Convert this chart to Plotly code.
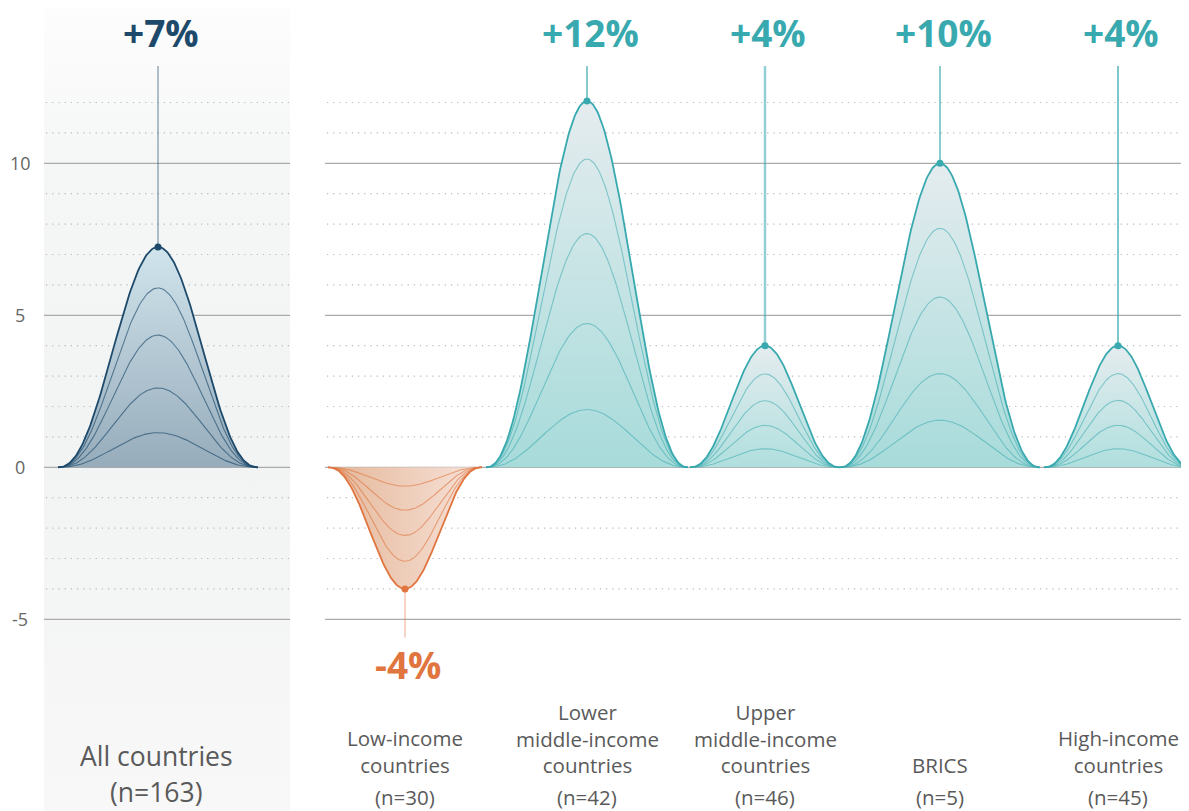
import numpy as np
import plotly.graph_objects as go

# data
groups = ["All countries", "Low-income<br>countries", "Lower<br>middle-income<br>countries",
          "Upper<br>middle-income<br>countries", "BRICS", "High-income<br>countries"]
n_counts = [163, 30, 42, 46, 5, 45]
peak_values = [7.25, -4.0, 12.05, 4.0, 10.0, 4.0]
inner_values = [
    [5.9, 4.35, 2.61, 1.14],
    [-3.09, -2.24, -1.41, -0.62],
    [10.14, 7.69, 4.73, 1.9],
    [3.07, 2.19, 1.38, 0.61],
    [7.86, 5.6, 3.08, 1.55],
    [3.08, 2.2, 1.38, 0.61],
]
grid_solid = [10, 5, 0, -5]
grid_dotted = [12, 11, 9, 8, 7, 6, 4, 3, 2, 1, -1, -2, -3, -4]
y_ticks = [10, 5, 0, -5]

# layout: the page has an 8px body margin, so the x axis is set up in page pixels
PAGE_W, PAGE_H, OFF = 1189, 811, 8
W, H = PAGE_W - OFF, PAGE_H - OFF
Y0_PX, PX_PER_UNIT = 467.3, 30.4
Y_MAX = (Y0_PX - OFF) / PX_PER_UNIT
Y_MIN = (Y0_PX - PAGE_H) / PX_PER_UNIT
centers = [158, 405, 587, 765, 940, 1118]
half_w = [100, 77, 101, 75, 100, 74]
STEM_TOP = 13.2
STEM_BOTTOM = -5.6

NAVY = "#1d4a6b"
TEAL = "#38a9ae"
ORANGE = "#e07540"
GREY_TXT = "#5a5a5a"
FONT = "Open Sans"
LABEL_SIZE = 20.5

styles = [
    dict(line=NAVY, inner="rgba(29,74,107,0.65)", stem="rgba(29,74,107,0.45)", stem_w=1.5,
         grad=dict(type="vertical", colorscale=[[0, "#97acbb"], [1, "#d0e4ec"]])),
    dict(line=ORANGE, inner="rgba(224,117,64,0.6)", stem="rgba(224,117,64,0.3)", stem_w=2,
         grad=dict(type="horizontal", colorscale=[[0, "#e4b799"], [1, "#f8e3da"]])),
    dict(line=TEAL, inner="rgba(56,169,174,0.55)", stem="rgba(56,169,174,0.6)", stem_w=2,
         grad=dict(type="vertical", colorscale=[[0, "#a7dbda"], [1, "#e5ecef"]])),
    dict(line=TEAL, inner="rgba(56,169,174,0.55)", stem="rgba(56,169,174,0.55)", stem_w=2.5,
         grad=dict(type="vertical", colorscale=[[0, "#b0dfde"], [1, "#e5ecef"]])),
    dict(line=TEAL, inner="rgba(56,169,174,0.55)", stem="rgba(56,169,174,1)", stem_w=1.2,
         grad=dict(type="vertical", colorscale=[[0, "#a7dbda"], [1, "#e5ecef"]])),
    dict(line=TEAL, inner="rgba(56,169,174,0.55)", stem="rgba(56,169,174,1)", stem_w=1.3,
         grad=dict(type="vertical", colorscale=[[0, "#b0dfde"], [1, "#e5ecef"]])),
]


def bell(t, p=1.15):
    return ((1 + np.cos(np.pi * t)) / 2) ** p


def py(px):
    # page pixel row -> paper y
    return 1 - (px - OFF) / H


fig = go.Figure()

# left panel background
fig.add_trace(go.Scatter(
    x=[44, 290, 290, 44, 44], y=[Y_MIN, Y_MIN, Y_MAX, Y_MAX, Y_MIN],
    mode="none", fill="toself",
    fillgradient=dict(type="vertical", start=Y_MIN, stop=Y_MAX,
                      colorscale=[[0, "#f8f8f8"], [0.45, "#f2f3f3"], [0.8, "#f5f6f6"], [1, "#fdfdfd"]]),
    hoverinfo="skip", showlegend=False,
))

# gridlines, two panels
for x0, x1 in [(44, 290), (325, PAGE_W)]:
    for g in grid_dotted:
        fig.add_trace(go.Scatter(x=[x0 + 2, x1], y=[g, g], mode="lines",
                                 line=dict(color="#b8b8b8", width=1.2, dash="1.2px,5px"),
                                 hoverinfo="skip", showlegend=False))
    for g in grid_solid:
        fig.add_trace(go.Scatter(x=[x0, x1], y=[g, g], mode="lines",
                                 line=dict(color="#ababab", width=1.3),
                                 hoverinfo="skip", showlegend=False))

t = np.linspace(-1, 1, 161)
for i, peak in enumerate(peak_values):
    st = styles[i]
    xs = centers[i] + t * half_w[i]
    fig.add_trace(go.Scatter(
        x=xs, y=peak * bell(t), mode="lines", fill="tozeroy",
        fillgradient=st["grad"], line=dict(color=st["line"], width=1.8),
        hoverinfo="skip", showlegend=False,
    ))
    for v in inner_values[i]:
        fig.add_trace(go.Scatter(
            x=xs, y=v * bell(t), mode="lines",
            line=dict(color=st["inner"], width=1.1),
            hoverinfo="skip", showlegend=False,
        ))
    end = STEM_TOP if peak > 0 else STEM_BOTTOM
    fig.add_trace(go.Scatter(
        x=[centers[i], centers[i]], y=[peak, end], mode="lines",
        line=dict(color=st["stem"], width=st["stem_w"]),
        hoverinfo="skip", showlegend=False,
    ))
    fig.add_trace(go.Scatter(
        x=[centers[i]], y=[peak], mode="markers",
        marker=dict(color=st["line"], size=7),
        hoverinfo="skip", showlegend=False,
    ))

annotations = []


def label(x, ypx, text, size, color=GREY_TXT):
    annotations.append(dict(
        x=x, y=py(ypx), xref="x", yref="paper", text=text, showarrow=False,
        xanchor="center", yanchor="middle",
        font=dict(family=FONT, size=size, color=color),
    ))


# value labels
for i, peak in enumerate(peak_values):
    label(centers[i] + 3, 32 if peak > 0 else 664, f"<b>{peak:+.0f}%</b>", 37, styles[i]["line"])

# y tick labels
for v in y_ticks:
    annotations.append(dict(
        x=20, y=v, xref="x", yref="y", text=str(v), showarrow=False,
        xanchor="center", yanchor="middle",
        font=dict(family=FONT, size=18, color="#666666"),
    ))

# group labels
for i, name in enumerate(groups):
    if i == 0:
        label(centers[0] - 2, 756, name, 26.5)
        label(centers[0] - 2, 792, f"(n={n_counts[0]})", 26.5)
        continue
    n_lines = name.count("<br>") + 1
    label(centers[i], 765 - (n_lines - 1) * LABEL_SIZE * 1.3 / 2, name, LABEL_SIZE)
    label(centers[i], 797, f"(n={n_counts[i]})", LABEL_SIZE)

fig.update_layout(
    width=W, height=H,
    margin=dict(l=0, r=0, t=0, b=0),
    paper_bgcolor="white", plot_bgcolor="white",
    xaxis=dict(range=[OFF, PAGE_W], visible=False, fixedrange=True),
    yaxis=dict(range=[Y_MIN, Y_MAX], visible=False, fixedrange=True),
    annotations=annotations,
    showlegend=False,
)

fig.write_html("out.html")
